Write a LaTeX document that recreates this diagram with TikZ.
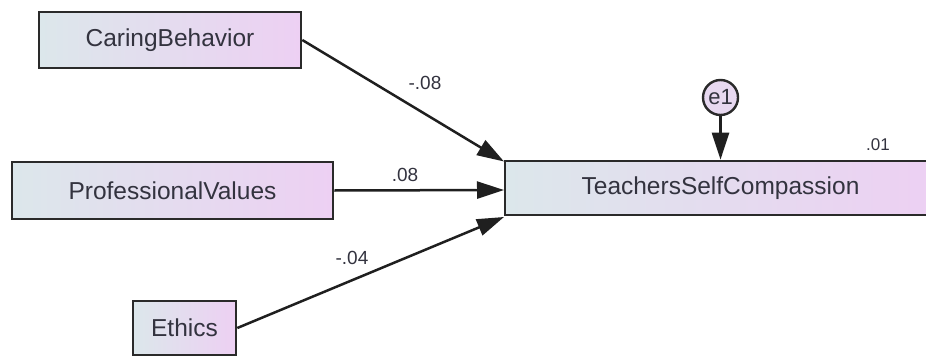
\documentclass[tikz,border=0pt]{standalone}
\usepackage{fontspec}
\setmainfont{Liberation Sans}
\usetikzlibrary{arrows.meta}
\definecolor{boxL}{HTML}{DCE7EB}
\definecolor{boxR}{HTML}{EDD0F3}
\definecolor{edge}{HTML}{2A2A2A}
\definecolor{txt}{HTML}{33333F}
\tikzset{
  var/.style={draw=edge, line width=2.6pt, left color=boxL, right color=boxR, rectangle, inner sep=0pt, text=txt, font=\fontsize{24.5}{26}\selectfont},
  errc/.style={draw=edge, line width=2.4pt, fill=boxR!65!boxL, circle, inner sep=0pt, minimum size=35pt, text=txt, font=\fontsize{22}{23}\selectfont},
  path/.style={draw=black!88, line width=2.5pt, -{Triangle[length=27pt,width=17pt]}},
  coef/.style={text=txt, font=\fontsize{19}{20}\selectfont, inner sep=0pt}
}
\begin{document}
\begin{tikzpicture}[x=1pt,y=-1pt]
\useasboundingbox (0,0) rectangle (926,356);
\begin{scope}
\clip (0,0) rectangle (926,356);
\node[var, minimum width=262pt, minimum height=56pt] (cb) at (170,40) {CaringBehavior};
\node[var, minimum width=321pt, minimum height=57pt] (pv) at (172.5,190.5) {ProfessionalValues};
\node[var, minimum width=103pt, minimum height=54pt] (et) at (184.5,328) {Ethics};
\node[var, minimum width=431pt, minimum height=54pt] (tsc) at (720.5,188) {TeachersSelfCompassion};
\node[errc] (e1) at (720.5,97.5) {e1};
\end{scope}
\coordinate (t1) at (504,161.5);
\coordinate (t2) at (504,190);
\coordinate (t3) at (504,217);
\draw[path] (cb.east) -- (t1);
\draw[path] (pv.east) -- (t2);
\draw[path] (et.east) -- (t3);
\draw[path] (e1.south) -- (e1.south |- tsc.north);
\node[coef] (l1) at (425,83) {-.08};
\node[coef] (l2) at (405,175) {.08};
\node[coef] (l3) at (352,258) {-.04};
\node[coef, font=\fontsize{17}{18}\selectfont] (l4) at (878,145) {.01};
\end{tikzpicture}
\end{document}
